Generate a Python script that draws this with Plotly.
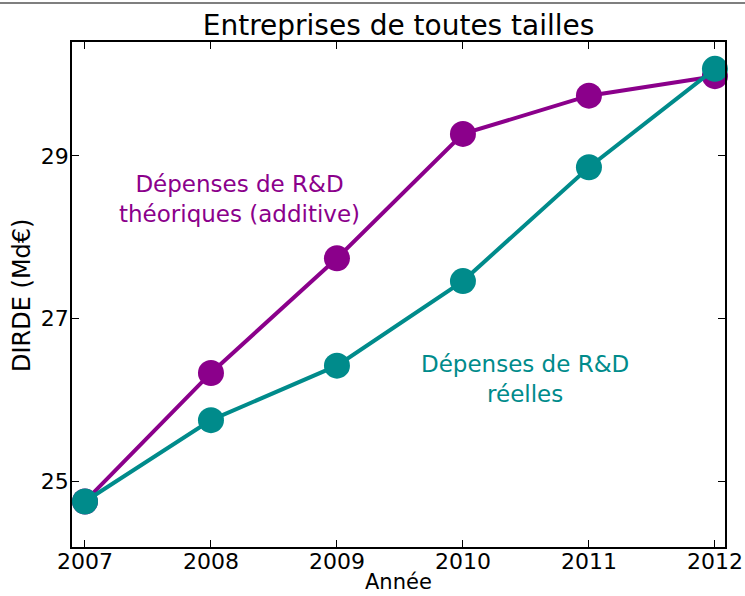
import plotly.graph_objects as go

years = [2007, 2008, 2009, 2010, 2011, 2012]
theoriques = [24.75, 26.33, 27.74, 29.27, 29.74, 29.98]
reelles = [24.75, 25.75, 26.42, 27.46, 28.86, 30.07]
y_ticks = [25, 27, 29]

PURPLE = "#8B008B"
TEAL = "#008B8B"
FONT = "DejaVu Sans"

fig = go.Figure()
fig.add_trace(go.Scatter(x=years, y=theoriques, mode="lines+markers",
                         line=dict(color=PURPLE, width=4),
                         marker=dict(color=PURPLE, size=26),
                         showlegend=False, cliponaxis=False))
fig.add_trace(go.Scatter(x=years, y=reelles, mode="lines+markers",
                         line=dict(color=TEAL, width=4),
                         marker=dict(color=TEAL, size=26),
                         showlegend=False, cliponaxis=False))

fig.add_annotation(x=2008.23, y=28.47, text="Dépenses de R&D<br>théoriques (additive)",
                   showarrow=False, font=dict(family=FONT, size=23, color=PURPLE))
fig.add_annotation(x=2010.49, y=26.26, text="Dépenses de R&D<br>réelles",
                   showarrow=False, font=dict(family=FONT, size=23, color=TEAL))

# axis titles as annotations
fig.add_annotation(xref="paper", yref="paper", x=0.50, y=-0.0693, text="Année",
                   showarrow=False, xanchor="center", yanchor="middle", borderpad=0,
                   font=dict(family=FONT, size=21, color="black"))
fig.add_annotation(xref="paper", yref="paper", x=-0.0766, y=0.499, text="DIRDE (Md€)",
                   showarrow=False, xanchor="center", yanchor="middle", textangle=-90,
                   font=dict(family=FONT, size=24, color="black"))

fig.add_shape(type="line", xref="paper", yref="paper", x0=-0.12, x1=1.04,
              y0=1.077, y1=1.077, line=dict(color="#555555", width=1.5))

axis_common = dict(showline=True, linecolor="black", linewidth=1.5, mirror="ticks",
                   ticks="inside", ticklen=7, tickcolor="black", tickwidth=1,
                   showgrid=False, zeroline=False, automargin=False,
                   tickfont=dict(family=FONT, size=22, color="black"))

fig.update_xaxes(range=[2006.897, 2012.08], tickvals=years,
                 ticktext=[str(y) for y in years], ticklabelstandoff=-6,
                 **axis_common)
fig.update_yaxes(range=[24.19, 30.40], tickvals=y_ticks,
                 ticktext=[str(v) for v in y_ticks], ticklabelstandoff=-3,
                 **axis_common)

fig.update_layout(
    width=745, height=596,
    margin=dict(l=72, r=20, t=42, b=49, autoexpand=False),
    paper_bgcolor="white", plot_bgcolor="white",
    title=dict(text="Entreprises de toutes tailles", x=0.535, xanchor="center",
               y=0.957, yanchor="middle", automargin=False,
               font=dict(family=FONT, size=28, color="black")),
)

fig.write_html("out.html", config={"displayModeBar": False},
               post_script="document.body.style.margin='0';document.body.style.overflow='hidden';")
